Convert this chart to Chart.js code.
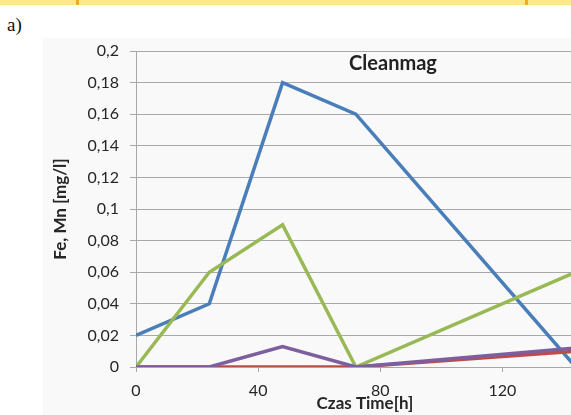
<!DOCTYPE html>
<html>
<head>
<meta charset="utf-8">
<script src="https://cdn.jsdelivr.net/npm/chart.js@4"></script>
<style>
  html, body { margin: 0; padding: 0; background: #fff; }
  body { width: 571px; height: 415px; overflow: hidden; position: relative; }
  #band { position: absolute; left: 0; top: 0; width: 571px; height: 5px; background: #fde98c; }
  .mark { position: absolute; top: 0; width: 3px; height: 5px; background: #f5ac1c; }
  #lbl { position: absolute; left: 7px; top: 14px; font: 19px "Liberation Serif", serif; color: #111; }
  #bg { position: absolute; left: 43px; top: 38px; right: 0; bottom: 0; background: #f9f9f9; }
  #wrap { position: absolute; left: 0; top: 0; width: 620px; height: 420px; }
</style>
</head>
<body>
<div id="band"></div>
<div class="mark" style="left:76px"></div>
<div class="mark" style="left:525px"></div>
<div id="lbl">a)</div>
<div id="bg"></div>
<div id="wrap"><canvas id="chart"></canvas></div>
<script>
// czas pomiaru [h]
const hours = [0, 24, 48, 72, 144];
// serie Fe / Mn
const blueSeries   = [0.02, 0.04, 0.18, 0.16, 0.0];
const redSeries    = [0, 0, 0, 0, 0.01];
const greenSeries  = [0, 0.06, 0.09, 0, 0.06];
const purpleSeries = [0, 0, 0.013, 0, 0.012];
// etykiety osi
const xTicks = [0, 40, 80, 120];
const yTicks = [0, 0.02, 0.04, 0.06, 0.08, 0.1, 0.12, 0.14, 0.16, 0.18, 0.2];

const FONT = 'Lato';
const gridColor = '#a8a8a8';

function toPoints(values){
  return hours.map((h, i) => ({x: h, y: values[i]}));
}

function serie(label, values, color, order){
  return {
    label: label,
    data: toPoints(values),
    borderColor: color,
    backgroundColor: color,
    borderWidth: 3.5,
    pointRadius: 0,
    tension: 0,
    order: order
  };
}

//titulo dentro del area del grafico
const titlePlugin = {
  id: 'insideTitle',
  afterDraw(chart){
    const c = chart.ctx;
    c.save();
    c.font = 'bold 20px ' + FONT;
    c.fillStyle = '#222';
    c.textAlign = 'center';
    c.textBaseline = 'alphabetic';
    c.fillText('Cleanmag', 393, 70);
    c.restore();
  }
};

let ctx = document.getElementById('chart');
let chart = new Chart(ctx, {
  type: 'line',
  data: {
    datasets: [
      serie('Fe 1', blueSeries, '#4a7ebb', 4),
      serie('Mn 1', redSeries, '#be4b48', 3),
      serie('Fe 2', greenSeries, '#98b954', 2),
      serie('Mn 2', purpleSeries, '#7d5fa0', 1)
    ]
  },
  options: {
    responsive: true,
    maintainAspectRatio: false,
    animation: false,
    layout: { padding: { left: 44, top: 51, right: 26, bottom: 2 } },
    plugins: {
      legend: { display: false },
      tooltip: { enabled: false }
    },
    scales: {
      x: {
        type: 'linear',
        min: 0,
        max: 150,
        afterBuildTicks: (scale) => { scale.ticks = xTicks.map(v => ({value: v})); },
        afterFit: (scale) => { scale.height = 51; },
        ticks: {
          color: '#262626',
          font: { family: FONT, size: 16 },
          padding: 9,
          maxRotation: 0
        },
        grid: { drawOnChartArea: false, drawTicks: true, tickLength: 5, color: gridColor },
        border: { color: gridColor, width: 1 },
        title: {
          display: true,
          text: 'Czas Time[h]',
          color: '#262626',
          font: { family: FONT, size: 17, weight: 'bold' },
          padding: { top: 0, bottom: 4 }
        }
      },
      y: {
        min: 0,
        max: 0.2,
        afterBuildTicks: (scale) => { scale.ticks = yTicks.map(v => ({value: v})); },
        afterFit: (scale) => { scale.width = 92; },
        ticks: {
          color: '#262626',
          font: { family: FONT, size: 16 },
          padding: 11,
          callback: (v) => String(+v.toFixed(2)).replace('.', ',')
        },
        grid: { color: gridColor, lineWidth: 1, tickLength: 6 },
        border: { color: gridColor, width: 1 },
        title: {
          display: true,
          text: 'Fe, Mn [mg/l]',
          color: '#262626',
          font: { family: FONT, size: 17, weight: 'bold' },
          padding: { top: 6, bottom: 0 }
        }
      }
    }
  },
  plugins: [titlePlugin]
});
</script>
</body>
</html>
